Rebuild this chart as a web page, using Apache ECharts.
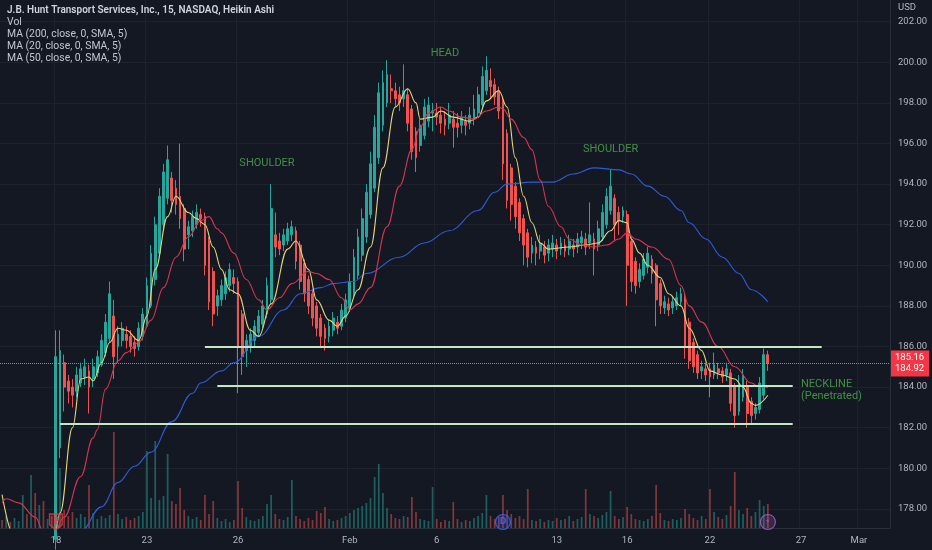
<!DOCTYPE html>
<html>
<head>
<meta charset="utf-8">
<title>JBHT 15m Heikin Ashi</title>
<script src="https://cdn.jsdelivr.net/npm/echarts@6/dist/echarts.min.js"></script>
<style>
html, body { margin: 0; padding: 0; background: #141823; }
#chart { width: 932px; height: 550px; }
</style>
</head>
<body>
<div id="chart"></div>
<script>
// sessions shown on the chart and how many 15 min bars each one takes
var days = [
    ['Jan 13', 6], ['Jan 17', 7],
    ['Jan 18', 7], ['Jan 19', 7], ['Jan 20', 8],
    ['Jan 23', 7], ['Jan 24', 7], ['Jan 25', 8],
    ['Jan 26', 7], ['Jan 27', 7], ['Jan 30', 7], ['Jan 31', 6],
    ['Feb 1', 7], ['Feb 2', 7], ['Feb 3', 7],
    ['Feb 6', 6], ['Feb 7', 6], ['Feb 8', 6], ['Feb 9', 6], ['Feb 10', 5],
    ['Feb 13', 6], ['Feb 14', 6], ['Feb 15', 5],
    ['Feb 16', 7], ['Feb 17', 7], ['Feb 21', 6],
    ['Feb 22', 7], ['Feb 23', 7], ['Feb 24', 8],
    ['Feb 27', 7], ['Feb 28', 7],
    ['Mar 1', 8]
];
var dateLabels = {'Jan 18': '18', 'Jan 23': '23', 'Jan 26': '26', 'Feb 1': 'Feb', 'Feb 6': '6',
    'Feb 13': '13', 'Feb 16': '16', 'Feb 22': '22', 'Feb 27': '27', 'Mar 1': 'Mar'};

// Heikin Ashi candles [open, close, low, high], first one is bar 13 (earlier bars sit below the price scale)
var candleStart = 13;
var haCandles = [
    [176.5,185.5,176.0,186.8],[181.0,185.8,180.5,186.8],[185.2,184.0,182.8,185.6],[184.3,183.8,183.2,184.6],
    [184.0,183.6,183.0,184.4],[183.8,184.6,183.5,185.0],[184.2,184.9,184.0,185.2],[184.5,185.0,184.1,185.4],
    [184.8,184.0,182.7,185.1],[184.4,185.0,184.0,185.4],[184.7,185.5,184.5,185.8],[185.1,186.3,185.0,186.6],
    [185.7,187.2,185.5,187.6],[186.4,188.6,186.2,189.2],[187.5,185.5,184.4,188.3],[186.0,186.6,185.2,187.0],
    [186.3,186.9,186.0,187.2],[186.6,186.3,185.9,187.0],[186.5,186.0,185.7,186.8],[186.2,185.9,185.5,186.5],
    [186.0,186.9,185.8,187.2],[186.5,187.6,186.3,187.9],[187.0,189.0,186.9,189.4],[188.0,190.6,187.9,191.0],
    [189.3,192.0,189.0,192.4],[190.6,193.4,190.4,193.8],[192.0,194.6,191.8,195.0],[193.3,195.2,193.0,195.9],
    [194.3,193.2,192.6,194.6],[193.8,193.0,192.5,194.2],[193.4,192.3,191.8,196.0],[192.8,190.8,190.2,193.0],
    [191.5,191.9,190.8,192.2],[191.7,192.4,191.4,192.7],[192.0,192.6,191.8,193.0],[192.5,192.3,191.9,192.8],
    [192.4,190.0,189.5,192.6],[191.2,188.2,187.8,191.4],[189.7,187.6,187.0,189.9],[188.0,188.5,187.5,188.8],
    [188.3,189.0,188.0,189.3],[188.6,189.4,188.3,189.7],[189.0,189.8,188.7,190.1],[189.4,189.1,188.6,189.8],
    [189.2,186.0,183.7,189.4],[187.6,185.5,184.6,187.8],[185.8,186.3,185.0,186.6],[186.0,186.6,185.7,186.9],
    [186.3,187.0,186.0,187.3],[186.7,187.5,186.5,187.8],[187.1,188.0,186.9,188.3],[187.6,189.0,187.4,189.4],
    [188.3,192.8,188.1,194.0],[191.5,190.9,190.4,192.6],[191.2,190.8,190.5,191.6],[191.0,191.5,190.7,191.8],
    [191.2,191.8,191.0,192.1],[191.5,191.9,191.2,192.2],[191.7,190.2,189.8,191.9],[191.0,189.2,188.8,191.2],
    [190.1,188.6,188.2,190.3],[189.3,188.0,187.6,189.5],[188.6,187.4,187.0,188.8],[188.0,186.9,186.5,188.2],
    [187.4,186.5,186.0,187.6],[186.9,186.4,185.8,187.1],[186.5,187.0,186.2,187.3],[186.8,187.4,186.5,187.7],
    [187.2,186.9,186.6,187.5],[187.0,187.8,186.8,188.1],[187.4,188.3,187.2,188.6],[187.9,189.2,187.7,189.6],
    [188.6,190.4,188.4,190.8],[189.5,191.4,189.3,191.8],[190.5,192.3,190.2,192.8],[191.4,193.6,191.1,194.0],
    [192.5,195.0,192.3,195.6],[193.8,196.8,193.6,197.4],[195.3,198.5,195.0,199.0],[196.9,199.0,196.6,199.6],
    [198.0,199.4,197.8,200.1],[198.7,198.6,198.0,199.4],[198.6,198.2,197.8,199.0],[198.4,198.0,197.6,198.8],
    [198.2,198.6,197.8,199.9],[198.4,197.0,196.6,198.7],[197.7,195.6,195.2,197.9],[196.6,195.3,194.6,196.8],
    [195.9,196.9,195.6,197.2],[196.4,197.8,196.2,198.2],[197.1,197.9,196.8,198.3],[197.5,197.6,196.6,198.0],
    [197.5,197.3,196.9,198.0],[197.4,197.0,196.5,197.8],[197.2,196.9,196.4,197.6],[197.0,197.4,196.7,198.0],
    [197.2,196.8,195.8,197.6],[197.0,196.8,196.3,197.5],[196.9,197.3,196.5,197.6],[197.1,196.9,196.4,197.4],
    [197.0,197.4,196.7,197.8],[197.2,197.7,196.9,198.4],[197.5,198.4,197.3,198.8],[197.9,199.3,197.7,199.8],
    [198.6,199.6,198.4,200.3],[199.1,198.8,198.2,199.7],[198.9,198.3,197.9,199.2],[198.6,197.6,197.2,198.8],
    [198.1,195.0,194.2,198.3],[196.5,193.2,192.8,196.7],[194.8,193.0,192.2,195.0],[193.9,192.4,191.8,194.1],
    [193.1,191.6,191.2,193.3],[192.3,191.0,190.0,192.5],[191.6,190.4,189.9,191.8],[190.6,191.0,190.1,191.4],
    [190.9,190.6,190.0,191.2],[190.7,191.1,190.3,191.5],[190.9,190.5,190.1,191.2],[190.6,191.0,190.2,191.3],
    [190.8,191.1,190.4,191.5],[191.0,190.7,190.3,191.3],[190.8,191.1,190.5,191.4],[191.0,190.7,190.4,191.3],
    [190.8,191.2,190.5,191.5],[191.0,190.8,190.4,191.3],[190.9,191.3,190.6,191.6],[191.1,191.4,190.8,191.7],
    [191.3,190.9,190.5,191.6],[191.1,191.5,190.8,193.1],[191.3,190.8,189.5,191.6],[191.0,191.8,190.7,192.2],
    [191.4,192.6,191.2,193.0],[192.0,193.4,191.8,193.8],[192.7,193.9,192.5,194.7],[193.3,192.0,191.2,193.5],
    [192.6,192.2,191.5,192.9],[192.4,192.7,192.1,192.9],[192.5,190.0,188.0,192.7],[191.2,189.2,188.7,191.4],
    [190.2,189.0,188.6,190.4],[189.2,189.8,188.9,190.1],[189.5,190.3,189.3,190.6],[189.9,190.6,189.6,190.9],
    [190.3,189.6,189.1,190.5],[190.0,188.3,187.0,190.1],[189.1,188.0,187.6,189.3],[187.9,188.2,187.6,188.5],
    [188.1,187.8,187.5,188.4],[187.9,188.2,187.6,188.5],[188.0,188.4,187.8,188.7],[188.2,188.6,188.0,188.9],
    [188.4,186.0,185.4,188.6],[187.2,185.3,184.9,187.4],[186.2,185.0,184.7,186.4],[185.6,184.7,184.4,185.8],
    [184.8,185.0,184.4,185.3],[184.9,184.6,184.3,185.2],[184.9,184.5,183.5,185.2],[184.6,185.1,184.4,185.7],
    [184.9,184.7,184.4,185.2],[184.8,184.5,184.2,185.0],[184.6,184.9,184.3,185.2],[184.7,183.2,182.8,184.9],
    [184.0,182.6,182.0,184.2],[182.8,184.2,182.6,184.6],[183.5,184.6,183.3,184.9],[184.0,182.7,182.0,184.3],
    [183.3,182.6,182.2,183.5],[182.7,183.0,182.4,183.2],[182.9,184.2,182.7,184.5],[183.6,185.6,183.4,185.9],
    [185.6,185.16,184.8,185.8]
];

// volume per bar (thousand shares), from bar 0
var volume = [
    8,12,6,10,7,33,14,53,35,23,27,9,12,
    110,60,18,12,16,10,14,11,43,15,9,12,10,13,96,14,9,11,8,10,12,16,
    77,30,87,28,32,74,27,24,40,18,12,9,11,8,33,14,27,10,7,9,6,8,
    47,20,11,8,7,9,12,24,33,14,9,8,11,48,12,9,7,10,8,17,15,21,9,7,8,10,12,
    15,18,20,22,25,30,51,64,35,20,14,10,9,12,11,31,16,9,8,7,41,
    9,6,8,7,26,9,6,8,7,10,12,15,33,12,9,11,33,18,14,10,12,9,39,8,7,9,6,8,7,
    10,8,9,12,7,9,11,39,14,12,10,13,16,37,12,9,11,
    21,14,9,8,7,9,12,43,15,8,7,9,8,10,19,14,10,8,12,9,
    39,16,11,9,13,22,56,18,14,20,12,16,28,22,24
];
// up / down flags for the volume bars before the first visible candle
var preUp = [0,1,0,1,1,1,0,1,0,1,0,1,0];

// moving averages: [bar, price]
var ma200 = [[10,174.5],[17,176.0],[19,176.9],[24,178.1],[28,179.3],[32,180.1],[36,180.8],[41,182.3],[46,183.7],
    [48,184.2],[53,184.8],[56,185.2],[62,186.5],[68,187.8],[72,188.6],[77,188.9],[80,189.1],[85,189.2],[88,189.6],
    [96,190.4],[102,191.1],[108,191.7],[115,192.7],[119,193.6],[122,194.0],[128,194.1],[133,194.1],[138,194.5],
    [143,194.8],[149,194.7],[152,194.5],[156,193.9],[160,193.4],[164,192.7],[166,192.1],[170,191.3],[174,190.4],
    [178,189.6],[181,188.8],[185,188.2]];
var ma20 = [[0,178.7],[3,176.6],[8,175.0],[12,175.6],[14,177.8],[17,182.0],[19,184.4],[21,184.5],[22,184.3],
    [24,185.2],[26,186.2],[28,186.9],[30,186.8],[33,186.3],[35,187.5],[37,189.8],[40,192.4],[42,193.4],[45,192.6],
    [47,192.3],[49,192.0],[51,190.9],[53,189.8],[55,188.8],[57,188.6],[60,186.8],[62,186.5],[65,188.1],[69,190.8],
    [71,191.2],[74,189.8],[76,188.3],[79,187.3],[81,187.0],[83,187.5],[86,188.8],[89,190.9],[92,194.8],[95,197.8],
    [98,198.7],[100,198.0],[101,197.2],[104,197.3],[106,197.6],[109,197.3],[113,197.1],[115,197.3],[117,198.1],
    [120,198.6],[122,197.8],[124,195.3],[126,193.4],[128,192.1],[130,191.1],[132,190.8],[137,190.9],[141,191.0],
    [144,191.1],[147,191.7],[149,192.2],[151,192.1],[152,191.3],[154,190.6],[156,190.0],[159,189.4],[161,188.6],
    [164,188.0],[166,186.9],[169,185.8],[171,184.8],[174,184.6],[177,184.4],[179,184.0],[181,183.2],[182,183.1],
    [185,183.6]];
var ma50 = [[0,178.3],[1,178.5],[4,178.3],[8,177.6],[10,176.9],[12,176.5],[15,177.6],[19,179.6],[22,181.5],
    [23,181.9],[25,183.9],[28,185.3],[30,185.7],[33,186.2],[36,187.3],[39,188.9],[42,190.4],[45,191.4],[48,192.2],
    [50,192.4],[52,191.8],[53,191.6],[56,190.6],[59,189.3],[62,188.3],[64,187.8],[67,188.4],[70,189.1],[74,189.7],
    [76,189.6],[79,189.3],[82,188.4],[84,187.8],[86,188.1],[89,188.9],[93,191.9],[96,193.9],[99,195.7],[101,196.8],
    [103,197.5],[106,197.8],[108,197.6],[111,197.3],[114,197.2],[117,197.6],[120,197.8],[121,197.7],[123,197.2],
    [126,196.3],[128,195.7],[130,194.2],[132,192.9],[135,191.9],[137,191.3],[140,191.0],[143,190.9],[146,191.0],
    [149,191.3],[151,191.6],[153,191.3],[157,190.9],[161,190.3],[164,189.0],[166,188.0],[169,187.2],[173,186.0],
    [177,185.0],[181,184.2],[183,184.0],[185,184.0]];

// drawn horizontal levels: price, first bar, last bar
var levels = [[186.0, 49, 198], [184.06, 52, 191], [182.2, 14, 191]];
// text notes: bar, price, text
var notes = [[64, 195.04, 'SHOULDER'], [107, 200.46, 'HEAD'], [147, 195.73, 'SHOULDER'],
    [193, 183.84, 'NECKLINE\n(Penetrated)']];
// earnings, dividend and news markers
var events = [[13, 'E'], [121, 'D'], [185, '\u26A1']];
var lastPrice = 185.16;
var lastClose = 184.92;

var legendLines = ['J.B. Hunt Transport Services, Inc., 15, NASDAQ, Heikin Ashi', 'Vol',
    'MA (200, close, 0, SMA, 5)', 'MA (20, close, 0, SMA, 5)', 'MA (50, close, 0, SMA, 5)'];

var colors = {bg: '#141823', up: '#26a69a', down: '#ef5350', grid: '#1e222d', border: '#2a2e39',
    text: '#b2b5be', level: '#c4e8c2', note: '#4caf50', ma200: '#2f5bd6', ma20: '#e6d67c', ma50: '#d8354f'};
var priceMin = 177.06, priceMax = 203.07;
var plotBottom = 22, plotRight = 42, plotH = 550 - plotBottom;

var categories = [];
days.forEach(function (d) {
    for (var k = 0; k < d[1]; k++) categories.push(d[0] + ' #' + (k + 1));
});
function dayStart(index, value) {
    var p = value.split(' #');
    return p[1] === '1' && dateLabels[p[0]] !== undefined;
}

var candleData = [], volData = [];
for (var i = 0; i < volume.length; i++) {
    var c = haCandles[i - candleStart];
    candleData.push(c ? c : '-');
    var up = c ? c[1] >= c[0] : preUp[i] === 1;
    volData.push({value: volume[i], itemStyle: {color: up ? 'rgba(38,166,154,0.5)' : 'rgba(239,83,80,0.5)'}});
}

var markLines = levels.map(function (l) {
    return [{coord: [l[1], l[0]]}, {coord: [l[2], l[0]]}];
});
markLines.push({
    yAxis: lastPrice,
    lineStyle: {type: 'dotted', color: '#8a8d96', width: 1},
    label: {show: true, position: 'end', distance: 1, formatter: lastPrice.toFixed(2) + '\n' + lastClose.toFixed(2),
        backgroundColor: '#f23645', color: '#fff', fontSize: 9.5, lineHeight: 11, padding: [2, 5, 2, 4],
        fontFamily: 'Roboto'}
});

var eventStyle = {
    'E': {symbol: 'path://M0,0 L12,0 L12,10 L6,15 L0,10 Z', size: [13, 16], fill: 'rgba(242,54,69,0.3)', line: '#f23645'},
    'D': {symbol: 'circle', size: 15, fill: 'rgba(41,98,255,0.3)', line: '#3b6cff'},
    '\u26A1': {symbol: 'circle', size: 15, fill: 'rgba(186,104,200,0.25)', line: '#b460c4'}
};
var markerLevel = 6;
var eventData = events.map(function (e) {
    var st = eventStyle[e[1]];
    return {
        name: e[1], value: [e[0], markerLevel], symbol: st.symbol, symbolSize: st.size,
        itemStyle: {color: st.fill, borderColor: st.line, borderWidth: 1.2},
        label: {color: st.line}
    };
});

function maSeries(name, data, color) {
    return {
        name: name, type: 'line', xAxisIndex: 0, yAxisIndex: 0, data: data,
        smooth: 0.4, smoothMonotone: 'x', showSymbol: false, symbol: 'none',
        lineStyle: {color: color, width: 1.1}, z: 4, silent: true
    };
}

var ppu = plotH / (priceMax - priceMin);
var chart = echarts.init(document.getElementById('chart'));
var option = {
    backgroundColor: colors.bg,
    animation: false,
    grid: [
        {left: 0, right: plotRight, top: 0, bottom: plotBottom, outerBoundsMode: 'none'},
        {left: 0, right: plotRight, top: -(204 - priceMax) * ppu, bottom: plotBottom - (priceMin - 176) * ppu,
            outerBoundsMode: 'none'}
    ],
    xAxis: [
        {
            type: 'category', gridIndex: 0, data: categories, boundaryGap: true,
            axisLine: {show: true, lineStyle: {color: colors.border}},
            axisTick: {show: false},
            axisLabel: {
                interval: dayStart, color: colors.text, fontSize: 9.5, margin: 8, fontFamily: 'Roboto',
                formatter: function (v) { return dateLabels[v.split(' #')[0]]; }
            },
            splitLine: {show: true, interval: dayStart, lineStyle: {color: colors.grid, width: 1}}
        },
        {type: 'category', gridIndex: 1, data: categories, show: false}
    ],
    yAxis: [
        {
            type: 'value', gridIndex: 0, min: priceMin, max: priceMax, position: 'right',
            axisLine: {show: true, lineStyle: {color: colors.border}},
            axisLabel: {show: false}, axisTick: {show: false}, splitLine: {show: false}
        },
        {type: 'value', gridIndex: 0, min: 0, max: plotH, show: false},
        {
            type: 'value', gridIndex: 1, min: 176, max: 204, interval: 2, position: 'right',
            axisLine: {show: false}, axisTick: {show: false},
            axisLabel: {showMinLabel: false, showMaxLabel: false, color: colors.text, fontSize: 9.5, margin: 8,
                fontFamily: 'Roboto', formatter: function (v) { return v.toFixed(2); }},
            splitLine: {show: true, showMinLine: false, showMaxLine: false, lineStyle: {color: colors.grid, width: 1}}
        }
    ],
    graphic: legendLines.map(function (t, k) {
        return {type: 'text', x: 7, y: 10 + 12 * k, silent: true, z: 10,
            style: {text: t, fill: k === 0 ? '#d1d4dc' : '#c3c6ce', fontSize: k === 0 ? 10 : 10.4,
                fontWeight: k === 0 ? 600 : 400, fontFamily: 'Roboto', verticalAlign: 'middle'}};
    }).concat([{type: 'text', x: 898, y: 8, silent: true,
        style: {text: 'USD', fill: colors.text, fontSize: 9.5, fontFamily: 'Roboto', verticalAlign: 'middle'}}]),
    series: [
        {
            name: 'Vol', type: 'bar', xAxisIndex: 0, yAxisIndex: 1, data: volData,
            barWidth: '42%', silent: true, z: 1
        },
        {
            name: 'JBHT', type: 'candlestick', xAxisIndex: 0, yAxisIndex: 0, data: candleData,
            barWidth: '55%', z: 3,
            itemStyle: {color: colors.up, color0: colors.down, borderColor: colors.up, borderColor0: colors.down,
                borderWidth: 1},
            markLine: {
                silent: true, symbol: ['none', 'none'], animation: false,
                lineStyle: {color: colors.level, width: 2, type: 'solid'},
                label: {show: false},
                data: markLines
            }
        },
        maSeries('MA 200', ma200, colors.ma200),
        maSeries('MA 20', ma20, colors.ma20),
        maSeries('MA 50', ma50, colors.ma50),
        {
            name: 'notes', type: 'scatter', xAxisIndex: 0, yAxisIndex: 0, symbolSize: 0, silent: true, z: 6,
            data: notes.map(function (n) {
                return {name: n[2], value: [n[0], n[1]], label: {align: n[2].indexOf('\n') > 0 ? 'left' : 'center'}};
            }),
            label: {show: true, position: 'inside', formatter: '{b}', color: colors.note, fontSize: 11,
                lineHeight: 12, fontFamily: 'Roboto'}
        },
        {
            name: 'events', type: 'scatter', xAxisIndex: 0, yAxisIndex: 1, data: eventData, clip: false,
            silent: true, z: 7,
            label: {show: true, position: 'inside', formatter: '{b}', fontSize: 8, fontWeight: 'bold',
                fontFamily: 'DejaVu Sans'}
        },
        {type: 'line', xAxisIndex: 1, yAxisIndex: 2, data: []}
    ]
};
chart.setOption(option);
</script>
</body>
</html>
